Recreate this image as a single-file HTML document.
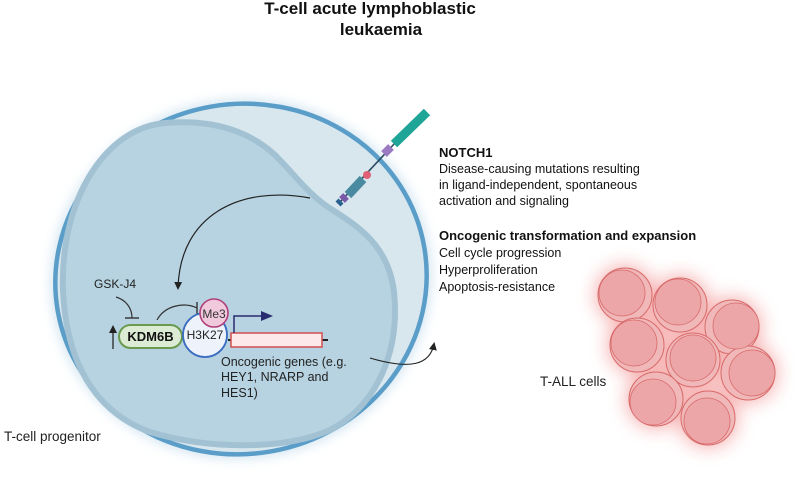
<!DOCTYPE html>
<html><head><meta charset="utf-8"><style>
body{margin:0;background:#fff;}
svg{display:block;font-family:"Liberation Sans",sans-serif;}
</style></head><body>
<svg width="796" height="484" viewBox="0 0 796 484">
<defs>
<filter id="glow" x="-20%" y="-20%" width="140%" height="140%"><feGaussianBlur stdDeviation="6"/></filter>
<filter id="rglow" x="-30%" y="-30%" width="160%" height="160%"><feGaussianBlur stdDeviation="9"/></filter>
<marker id="ah" markerWidth="8" markerHeight="8" refX="6" refY="4" orient="auto" markerUnits="userSpaceOnUse"><path d="M0,0 L8,4 L0,8 Z" fill="#222"/></marker>
<marker id="ahb" markerWidth="12" markerHeight="10" refX="9" refY="5" orient="auto" markerUnits="userSpaceOnUse"><path d="M0,0 L12,5 L0,10 Z" fill="#2a2a70"/></marker>
</defs>
<text x="370" y="14" text-anchor="middle" font-size="17" font-weight="bold" fill="#111">T-cell acute lymphoblastic</text>
<text x="381" y="35" text-anchor="middle" font-size="17" font-weight="bold" fill="#111">leukaemia</text>

<!-- cell -->
<ellipse cx="241" cy="279" rx="190" ry="179" fill="#cfe3f0" filter="url(#glow)" transform="rotate(-10 241 279)"/>
<ellipse cx="241" cy="279" rx="186" ry="175" fill="#d8e7ee" stroke="#5a9dc8" stroke-width="4.5" transform="rotate(-10 241 279)"/>
<path d="M63,290 C60,200 105,128 165,123 C215,119 250,132 275,155 C295,175 305,190 325,205 C350,222 388,240 394,292 C400,350 378,405 330,430 C285,450 210,450 150,432 C95,412 66,362 63,290 Z" fill="#b7d3e1" stroke="#a2c2d3" stroke-width="6"/>

<!-- NOTCH1 receptor -->
<g stroke-linecap="butt">
<line x1="340" y1="202" x2="395" y2="143" stroke="#2a4a60" stroke-width="1.6"/>
<line x1="394" y1="144" x2="427" y2="112" stroke="#1fa598" stroke-width="9"/>
<line x1="384" y1="154" x2="391" y2="147" stroke="#9a7ac0" stroke-width="8"/>
<line x1="348" y1="195" x2="363" y2="179" stroke="#4a8aa0" stroke-width="9"/>
<circle cx="367" cy="175" r="4" fill="#e06075"/>
<line x1="342" y1="200" x2="346" y2="196" stroke="#7a5aa8" stroke-width="8"/>
<line x1="338" y1="204" x2="341" y2="201" stroke="#2a6090" stroke-width="7"/>
</g>

<!-- curved arrow from membrane -->
<path d="M310,198 C240,185 180,215 178,288" fill="none" stroke="#222" stroke-width="1.2" marker-end="url(#ah)"/>

<!-- GSK-J4 -->
<text x="94" y="288" font-size="12" fill="#222">GSK-J4</text>
<path d="M116,297 C126,300 132,308 132,318" fill="none" stroke="#333" stroke-width="1.2"/>
<line x1="125" y1="318" x2="139" y2="318" stroke="#333" stroke-width="1.4"/>
<line x1="113" y1="349" x2="113" y2="327" stroke="#333" stroke-width="1.4" marker-end="url(#ah)"/>
<!-- KDM6B -->
<rect x="119" y="325" width="63" height="23" rx="11.5" fill="#dcebd3" stroke="#6a9a50" stroke-width="2"/>
<text x="150.5" y="341" text-anchor="middle" font-size="13" font-weight="bold" fill="#111">KDM6B</text>
<path d="M157,320 C165,305 185,302 197,308" fill="none" stroke="#333" stroke-width="1.2"/>
<line x1="197" y1="302" x2="197" y2="314" stroke="#333" stroke-width="1.4"/>
<!-- H3K27 -->
<circle cx="205" cy="335" r="22" fill="#eef3fb" stroke="#3a6cc0" stroke-width="1.8"/>
<text x="205" y="339" text-anchor="middle" font-size="12" fill="#222">H3K27</text>
<circle cx="214" cy="313" r="14" fill="#f1c9dd" stroke="#b0407a" stroke-width="1.6"/>
<text x="214" y="318" text-anchor="middle" font-size="12" fill="#333">Me3</text>
<!-- gene -->
<line x1="228" y1="340" x2="328" y2="340" stroke="#222" stroke-width="2"/>
<rect x="231" y="333" width="91" height="14" fill="#fde9e9" stroke="#d05050" stroke-width="1.5"/>
<path d="M234,333 L234,316 L270,316" fill="none" stroke="#2a2a70" stroke-width="1.5" marker-end="url(#ahb)"/>
<text font-size="12.5" fill="#222"><tspan x="221" y="366">Oncogenic genes (e.g.</tspan><tspan x="221" y="381">HEY1, NRARP and</tspan><tspan x="221" y="397">HES1)</tspan></text>

<path d="M370,358 C410,370 430,365 434,344" fill="none" stroke="#222" stroke-width="1.1" marker-end="url(#ah)"/>

<text x="4" y="441" font-size="13.5" fill="#222">T-cell progenitor</text>

<text font-size="12.5" fill="#111"><tspan x="439" y="157" font-weight="bold" font-size="13">NOTCH1</tspan><tspan x="439" y="173">Disease-causing mutations resulting</tspan><tspan x="439" y="189">in ligand-independent, spontaneous</tspan><tspan x="439" y="205">activation and signaling</tspan></text>
<text font-size="12.5" fill="#111"><tspan x="439" y="240" font-weight="bold" font-size="13">Oncogenic transformation and expansion</tspan><tspan x="439" y="257">Cell cycle progression</tspan><tspan x="439" y="274">Hyperproliferation</tspan><tspan x="439" y="291">Apoptosis-resistance</tspan></text>
<text x="540" y="386" font-size="13.5" fill="#222">T-ALL cells</text>

<g filter="url(#rglow)" fill="#f4a0a0" opacity="0.8">
<circle cx="625" cy="295" r="30"/><circle cx="680" cy="305" r="30"/><circle cx="732" cy="327" r="30"/><circle cx="637" cy="345" r="30"/><circle cx="693" cy="360" r="30"/><circle cx="748" cy="373" r="30"/><circle cx="656" cy="399" r="30"/><circle cx="708" cy="418" r="30"/>
</g>
<g fill="#f0b8b8" stroke="#d86a6a" stroke-width="1">
<circle cx="625" cy="295" r="27"/><circle cx="680" cy="305" r="27"/><circle cx="732" cy="327" r="27"/><circle cx="637" cy="345" r="27"/><circle cx="693" cy="360" r="27"/><circle cx="748" cy="373" r="27"/><circle cx="656" cy="399" r="27"/><circle cx="708" cy="418" r="27"/>
</g>
<g fill="#eda6a8" stroke="#d86a6a" stroke-width="0.8">
<circle cx="622" cy="293" r="23"/><circle cx="678" cy="302" r="23"/><circle cx="736" cy="326" r="23"/><circle cx="634" cy="343" r="23"/><circle cx="693" cy="358" r="23"/><circle cx="752" cy="373" r="23"/><circle cx="653" cy="402" r="23"/><circle cx="707" cy="421" r="23"/>
</g>
</svg>
</body></html>
